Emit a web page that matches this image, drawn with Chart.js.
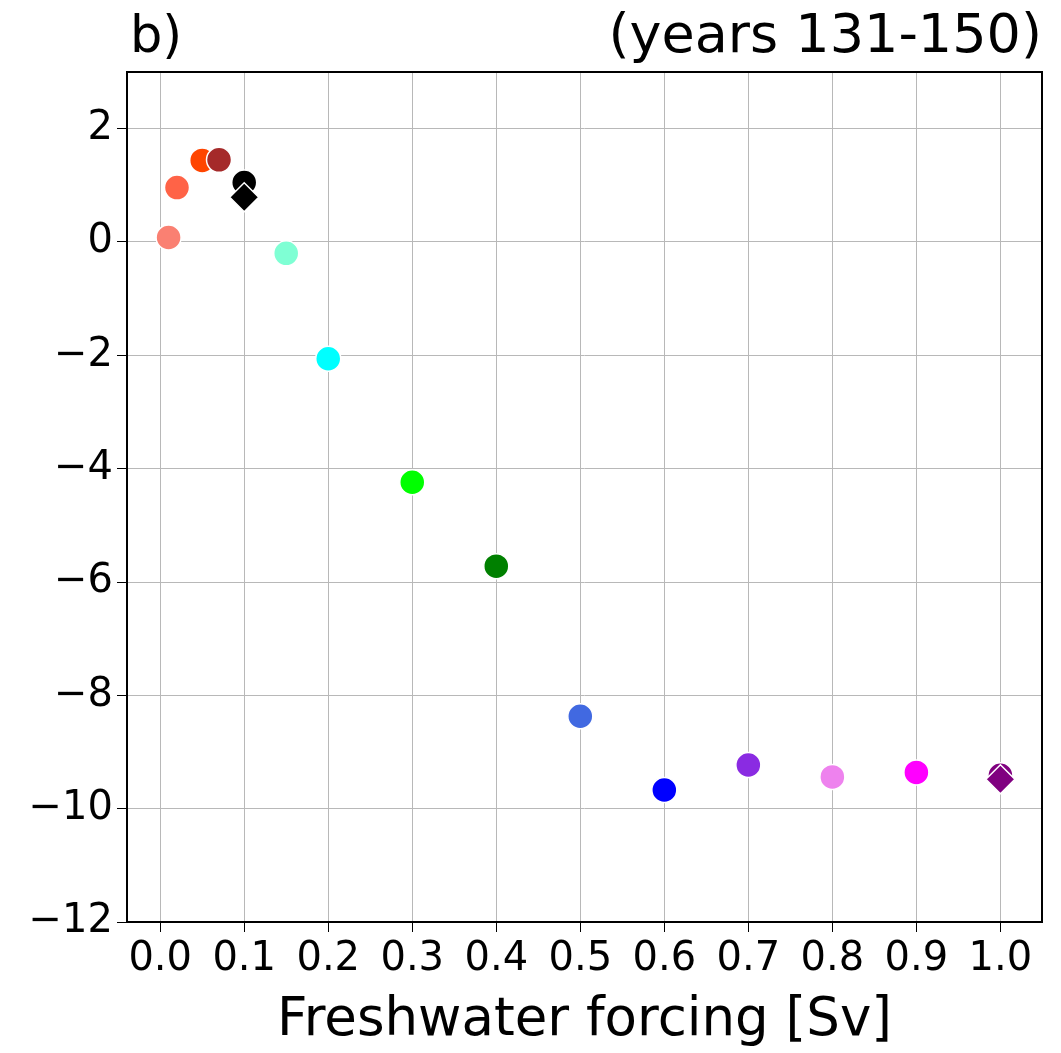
<!DOCTYPE html>
<html>
<head>
<meta charset="utf-8">
<script src="https://cdn.jsdelivr.net/npm/chart.js@4/dist/chart.umd.min.js"></script>
<style>
html,body{margin:0;padding:0;background:#fff;}
#wrap{width:1061px;height:1053px;}
</style>
</head>
<body>
<div id="wrap"><canvas id="c" width="1061" height="1053"></canvas></div>
<script>
// Data
const forcing = [0.01, 0.02, 0.05, 0.07, 0.1, 0.15, 0.2, 0.3, 0.4, 0.5, 0.6, 0.7, 0.8, 0.9, 1.0];
const circleValues = [0.08, 0.96, 1.44, 1.45, 1.05, -0.20, -2.06, -4.24, -5.72, -8.37, -9.67, -9.23, -9.44, -9.36, -9.41];
const circleColors = ['#FA8072', '#FF6347', '#FF4500', '#A52A2A', '#000000', '#7FFFD4', '#00FFFF', '#00FF00', '#008000', '#4169E1', '#0000FF', '#8A2BE2', '#EE82EE', '#FF00FF', '#800080'];
const diamondForcing = [0.1, 1.0];
const diamondValues = [0.79, -9.48];
const diamondColors = ['#000000', '#800080'];
const xTicks = [0.0, 0.1, 0.2, 0.3, 0.4, 0.5, 0.6, 0.7, 0.8, 0.9, 1.0];
const yTicks = [-12, -10, -8, -6, -4, -2, 0, 2];
const panelLabel = 'b)';
const periodLabel = '(years 131-150)';
const xTitle = 'Freshwater forcing [Sv]';

const FONT = "'DejaVu Sans', sans-serif";

const boxPlugin = {
  id: 'box',
  afterDatasetsDraw(chart) {
    const {ctx, chartArea: a} = chart;
    ctx.save();
    ctx.strokeStyle = '#000';
    ctx.lineWidth = 2;
    ctx.strokeRect(a.left, a.top, a.right - a.left, a.bottom - a.top);
    ctx.restore();
  },
  afterDraw(chart) {
    const {ctx} = chart;
    ctx.save();
    ctx.fillStyle = '#000';
    ctx.textBaseline = 'alphabetic';
    ctx.font = "51px " + FONT;
    ctx.textAlign = 'left';
    ctx.fillText(panelLabel, 130, 52);
    ctx.font = "54px " + FONT;
    ctx.textAlign = 'right';
    ctx.fillText(periodLabel, 1042, 52);
    ctx.restore();
  }
};

new Chart(document.getElementById('c'), {
  type: 'scatter',
  data: {
    datasets: [
      {
        data: forcing.map((x, i) => ({x: x, y: circleValues[i]})),
        pointStyle: 'circle',
        pointRadius: 12.5,
        pointHoverRadius: 12.5,
        pointBackgroundColor: circleColors,
        pointBorderColor: '#ffffff',
        pointBorderWidth: 1.5,
        order: 2
      },
      {
        data: diamondForcing.map((x, i) => ({x: x, y: diamondValues[i]})),
        pointStyle: 'rectRot',
        pointRadius: 14.5,
        pointHoverRadius: 14.5,
        pointBackgroundColor: diamondColors,
        pointBorderColor: '#ffffff',
        pointBorderWidth: 1.5,
        order: 1
      }
    ]
  },
  options: {
    responsive: false,
    animation: false,
    events: [],
    layout: {padding: {left: 0, right: 19, top: 72, bottom: 0}},
    plugins: {legend: {display: false}, tooltip: {enabled: false}, title: {display: false}},
    scales: {
      x: {
        type: 'linear',
        min: -0.0395,
        max: 1.0495,
        afterBuildTicks: s => { s.ticks = xTicks.map(v => ({value: v})); },
        afterFit: s => { s.height = 131; },
        ticks: {
          color: '#000',
          font: {family: FONT, size: 40},
          padding: 4,
          maxRotation: 0,
          autoSkip: false,
          callback: v => Number(v).toFixed(1)
        },
        grid: {color: '#b8b8b8', lineWidth: 1, tickLength: 10, tickColor: '#000', drawTicks: true},
        border: {display: false},
        title: {display: true, text: xTitle, color: '#000', font: {family: FONT, size: 53}, padding: {top: 0, bottom: 0}}
      },
      y: {
        type: 'linear',
        min: -12,
        max: 3,
        afterBuildTicks: s => { s.ticks = yTicks.map(v => ({value: v})); },
        afterFit: s => { s.width = 127; },
        ticks: {
          color: '#000',
          font: {family: FONT, size: 40},
          padding: 4,
          autoSkip: false,
          callback: v => (v < 0 ? '\u2212' + Math.abs(v) : String(v))
        },
        grid: {color: '#b8b8b8', lineWidth: 1, tickLength: 10, tickColor: '#000', drawTicks: true},
        border: {display: false}
      }
    }
  },
  plugins: [boxPlugin]
});
</script>
</body>
</html>
